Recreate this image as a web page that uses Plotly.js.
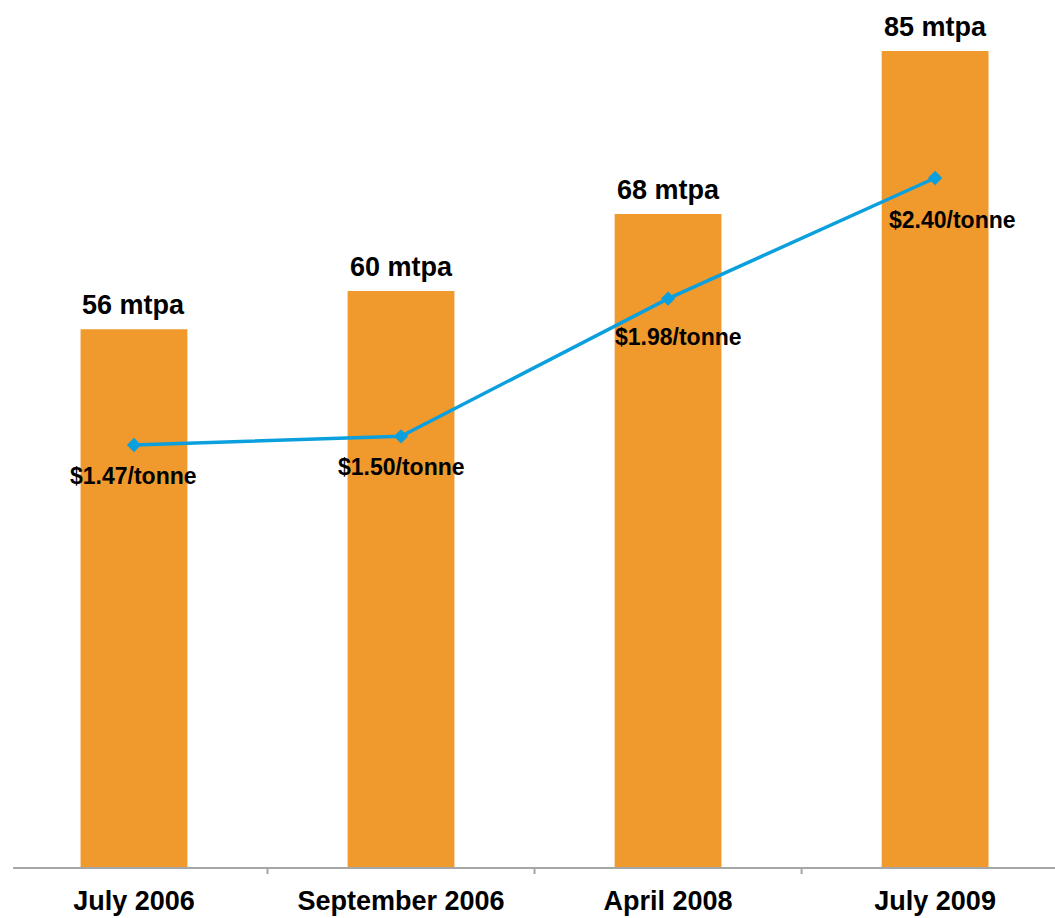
<!DOCTYPE html>
<html>
<head>
<meta charset="utf-8">
<script src="https://cdn.plot.ly/plotly-3.0.1.min.js"></script>
<style>html,body{margin:0;padding:0;background:#fff;}#chart{width:1055px;height:918px;}</style>
</head>
<body>
<div id="chart"></div>
<script>
// Data
const categories = ["July 2006", "September 2006", "April 2008", "July 2009"];
const capacity = [56, 60, 68, 85];            // mtpa
const capacityLabels = ["56 mtpa", "60 mtpa", "68 mtpa", "85 mtpa"];
const price = [1.47, 1.50, 1.98, 2.40];       // $/tonne
const priceLabels = ["$1.47/tonne", "$1.50/tonne", "$1.98/tonne", "$2.40/tonne"];

const FONT = "Liberation Sans, Arial, sans-serif";
const idx = categories.map((c, i) => i);
const priceXShift = [0, 0, 10, 17];
const priceYShift = [-31, -31, -38, -42];

const bars = {
  type: "bar",
  x: idx,
  y: capacity,
  width: 0.4,
  marker: {color: "#F0992C", line: {width: 0}},
  hoverinfo: "skip",
  showlegend: false
};
const line = {
  type: "scatter",
  mode: "lines+markers",
  x: idx,
  y: price,
  yaxis: "y2",
  line: {color: "#0BA0DD", width: 3.5},
  marker: {symbol: "diamond", size: 11, color: "#0BA0DD"},
  hoverinfo: "skip",
  showlegend: false
};

const annotations = [];
idx.forEach(i => {
  annotations.push({
    x: i, y: capacity[i], xref: "x", yref: "y",
    text: "<b>" + capacityLabels[i] + "</b>",
    showarrow: false, yanchor: "bottom", yshift: 7,
    font: {family: FONT, size: 27, color: "#000"}
  });
  annotations.push({
    x: i, y: price[i], xref: "x", yref: "y2",
    text: "<b>" + priceLabels[i] + "</b>",
    showarrow: false, yanchor: "middle",
    xshift: priceXShift[i], yshift: priceYShift[i],
    font: {family: FONT, size: 23, color: "#000"}
  });
});

const layout = {
  width: 1055, height: 918,
  margin: {l: 13, r: 0, t: 0, b: 51, pad: 0},
  paper_bgcolor: "#fff", plot_bgcolor: "#fff",
  font: {family: FONT},
  xaxis: {
    range: [-0.453, 3.449],
    tickmode: "array",
    tickvals: idx,
    ticktext: categories.map(c => "<b>" + c + "</b>"),
    ticks: "",
    showgrid: false, zeroline: false,
    showline: true, linecolor: "#A6A6A6", linewidth: 2,
    tickfont: {family: FONT, size: 27, color: "#000"},
    ticklabelstandoff: 9,
    fixedrange: true
  },
  yaxis: {
    range: [0, 90.3],
    visible: false, showgrid: false, zeroline: false, fixedrange: true
  },
  yaxis2: {
    range: [0, 3.02],
    overlaying: "y", side: "right",
    visible: false, showgrid: false, zeroline: false, fixedrange: true
  },
  shapes: [0.5, 1.5, 2.5].map(v => ({
    type: "line", xref: "x", yref: "paper",
    x0: v, x1: v, ysizemode: "pixel", yanchor: 0, y0: -7, y1: 0,
    line: {color: "#A6A6A6", width: 2}
  })),
  annotations: annotations
};

Plotly.newPlot("chart", [bars, line], layout, {staticPlot: true, displayModeBar: false});
</script>
</body>
</html>
